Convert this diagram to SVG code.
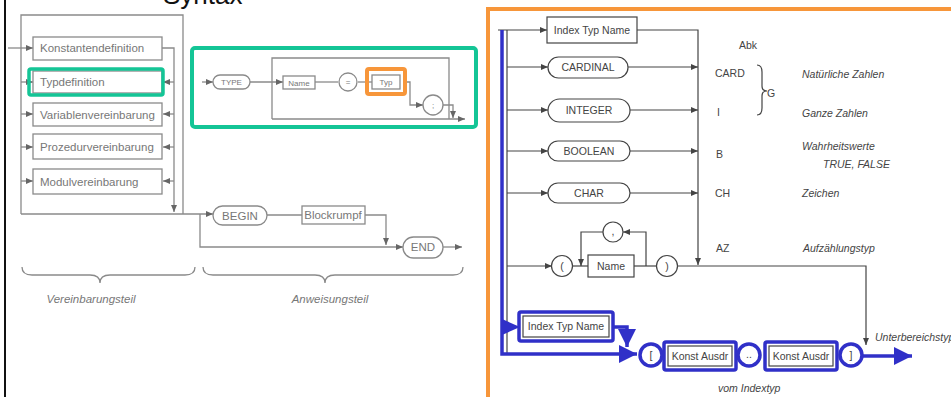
<svg xmlns="http://www.w3.org/2000/svg" width="951" height="397" viewBox="0 0 951 397">
<defs>
<style>
.ln{fill:none;stroke:#444;stroke-width:1.2}
.lg{fill:none;stroke:#8a8a8a;stroke-width:1.3}
.bx{fill:#fff;stroke:#444;stroke-width:1.2}
.bxg{fill:#fff;stroke:#8a8a8a;stroke-width:1.3}
.t{font-family:"Liberation Sans",Arial,sans-serif;font-size:10.5px;fill:#444}
.tg{fill:#777;font-size:11.5px}
.sm{font-size:8px}
.it{font-style:italic}
.c{text-anchor:middle}
.blue{fill:none;stroke:#3030c8;stroke-width:3.5}
.bluef{fill:#3030c8}
.green{fill:none;stroke:#14c596;stroke-width:4}
.orange{fill:none;stroke:#f7963a;stroke-width:4}
</style>
<marker id="a" markerUnits="userSpaceOnUse" markerWidth="7" markerHeight="6" refX="7" refY="3" orient="auto"><path d="M0,0 L7,3 L0,6 z" fill="#444"/></marker>
<marker id="ag" markerUnits="userSpaceOnUse" markerWidth="7" markerHeight="6" refX="7" refY="3" orient="auto"><path d="M0,0 L7,3 L0,6 z" fill="#666"/></marker>
<marker id="ab" markerUnits="userSpaceOnUse" markerWidth="18" markerHeight="18" refX="18" refY="9" orient="auto"><path d="M0,0 L18,9 L0,18 z" fill="#3030c8"/></marker>
</defs>
<rect width="951" height="397" fill="#fff"/>
<line x1="5" y1="0" x2="5" y2="397" stroke="#111" stroke-width="2"/>
<text x="163" y="4" style="font-family:'Liberation Sans',Arial,sans-serif;font-size:26px;fill:#111">Syntax</text>

<g id="connectors">
<!-- left block -->
<path class="lg" d="M21,214 V15 H183 V214"/>
<path class="lg" d="M8,48 H33" marker-end="url(#ag)"/>
<path class="lg" d="M21,82 H33" marker-end="url(#ag)"/>
<path class="lg" d="M21,114 H33" marker-end="url(#ag)"/>
<path class="lg" d="M21,147 H33" marker-end="url(#ag)"/>
<path class="lg" d="M21,181 H33" marker-end="url(#ag)"/>
<path class="lg" d="M162,48 H174 V212" marker-end="url(#ag)"/>
<path class="lg" d="M174,82 H163" marker-end="url(#ag)"/>
<path class="lg" d="M174,114 H163" marker-end="url(#ag)"/>
<path class="lg" d="M174,147 H163" marker-end="url(#ag)"/>
<path class="lg" d="M174,181 H163" marker-end="url(#ag)"/>
<path class="lg" d="M21,214 H213" marker-end="url(#ag)"/>
<path class="lg" d="M200,214 V247 H403" marker-end="url(#ag)"/>
<path class="lg" d="M267,215 H302"/>
<path class="lg" d="M365,215 H386 V245" marker-end="url(#ag)"/>
<path class="lg" d="M443,247 H462" marker-end="url(#ag)"/>
<path class="lg" d="M22,267 Q22,275 32,275 H90 Q100,275 100,283 Q100,275 110,275 H185 Q195,275 195,267"/>
<path class="lg" d="M203,267 Q203,275 213,275 H315 Q325,275 325,283 Q325,275 335,275 H453 Q463,275 463,267"/>
<!-- TYPE diagram -->
<path class="lg" d="M202,82 H213" marker-end="url(#ag)"/>
<path class="lg" d="M250,82 H283" marker-end="url(#ag)"/>
<path class="lg" d="M272,119 V58 H449 V119"/>
<path class="lg" d="M272,119 H465" marker-end="url(#ag)"/>
<path class="lg" d="M315,82 H338"/>
<path class="lg" d="M358,82 H372"/>
<path class="lg" d="M405,82 H410 V105 H423" marker-end="url(#ag)"/>
<path class="lg" d="M443,105 H453 V118" marker-end="url(#ag)"/>
<!-- right diagram -->
<path class="ln" d="M498,30 H547" marker-end="url(#a)"/>
<path class="ln" d="M507,30 V354"/>
<path class="ln" d="M637,30 H698 V265" marker-end="url(#a)"/>
<path class="ln" d="M507,67 H548" marker-end="url(#a)"/>
<path class="ln" d="M628,67 H698" marker-end="url(#a)"/>
<path class="ln" d="M507,110 H548" marker-end="url(#a)"/>
<path class="ln" d="M630,110 H698" marker-end="url(#a)"/>
<path class="ln" d="M507,151 H548" marker-end="url(#a)"/>
<path class="ln" d="M630,151 H698" marker-end="url(#a)"/>
<path class="ln" d="M507,193 H548" marker-end="url(#a)"/>
<path class="ln" d="M630,193 H698" marker-end="url(#a)"/>
<path class="ln" d="M507,266 H552" marker-end="url(#a)"/>
<path class="ln" d="M572,266 H588"/>
<path class="ln" d="M634,266 H657"/>
<path class="ln" d="M646,266 V232 H623" marker-end="url(#a)"/>
<path class="ln" d="M603,232 H581 V266" marker-end="url(#a)"/>
<path class="ln" d="M677,266 H866 V345" marker-end="url(#a)"/>
<path class="ln" d="M757,65 Q762,65 762,72 V86 Q762,91 767,91 Q762,91 762,96 V108 Q762,115 757,115"/>
<!-- blue overlay -->
<path class="blue" d="M502,30 V354 H637" marker-end="url(#ab)"/>
<polygon class="bluef" points="502,319 520,327 502,335"/>
<path class="blue" d="M613,327 H627 V347" marker-end="url(#ab)"/>
<path class="blue" d="M862,356 H912" marker-end="url(#ab)"/>
</g>

<g id="n-konst"><rect class="bxg" x="33" y="37" width="129" height="23"/><text class="t tg" x="40" y="52">Konstantendefinition</text></g>
<g id="n-typdef"><rect class="bxg" x="33" y="71" width="129" height="22"/><rect class="green" x="29" y="69" width="134" height="26" rx="2" style="stroke-width:3.5"/><text class="t tg" x="40" y="86">Typdefinition</text></g>
<g id="n-var"><rect class="bxg" x="33" y="103" width="129" height="23"/><text class="t tg" x="40" y="119">Variablenvereinbarung</text></g>
<g id="n-proz"><rect class="bxg" x="33" y="134" width="129" height="25"/><text class="t tg" x="40" y="151">Prozedurvereinbarung</text></g>
<g id="n-modul"><rect class="bxg" x="33" y="169" width="129" height="25"/><text class="t tg" x="40" y="186">Modulvereinbarung</text></g>
<g id="n-begin"><rect class="bxg" x="213" y="206" width="54" height="19" rx="9.5"/><text class="t tg c" x="240" y="220">BEGIN</text></g>
<g id="n-block"><rect class="bxg" x="302" y="206" width="63" height="18"/><text class="t tg c" x="333" y="219">Blockrumpf</text></g>
<g id="n-end"><rect class="bxg" x="403" y="237" width="40" height="21" rx="10.5"/><text class="t tg c" x="423" y="251">END</text></g>
<text class="t tg it c" x="91" y="303">Vereinbarungsteil</text>
<text class="t tg it c" x="330" y="303">Anweisungsteil</text>

<g id="n-typebox"><rect class="green" x="192" y="48" width="284" height="79" rx="3"/></g>
<g id="n-type"><rect class="bxg" x="213" y="75" width="37" height="14" rx="7"/><text class="t tg sm c" x="231.5" y="85">TYPE</text></g>
<g id="n-name1"><rect class="bxg" x="283" y="76" width="32" height="13"/><text class="t tg sm c" x="299" y="85.5">Name</text></g>
<g id="n-eq"><circle class="bxg" cx="348" cy="82" r="9"/><text class="t tg sm c" x="348" y="85">=</text></g>
<g id="n-typ"><rect class="bxg" x="372" y="75" width="28" height="14"/><rect class="orange" x="367" y="69" width="38" height="25" rx="2"/><text class="t tg sm c" x="386" y="85">Typ</text></g>
<g id="n-semi"><circle class="bxg" cx="433" cy="105" r="10"/><text class="t tg sm c" x="433" y="108">;</text></g>

<path class="orange" d="M488,397 V9 H951"/>
<g id="n-itn"><rect class="bx" x="547" y="17" width="90" height="26"/><text class="t c" x="592" y="34">Index Typ Name</text></g>
<g id="n-cardinal"><rect class="bx" x="548" y="57" width="80" height="21" rx="10.5"/><text class="t c" x="588" y="71">CARDINAL</text></g>
<g id="n-integer"><rect class="bx" x="548" y="99" width="82" height="23" rx="11.5"/><text class="t c" x="589" y="114">INTEGER</text></g>
<g id="n-boolean"><rect class="bx" x="548" y="141" width="82" height="20" rx="10"/><text class="t c" x="589" y="155">BOOLEAN</text></g>
<g id="n-char"><rect class="bx" x="548" y="183" width="82" height="20" rx="10"/><text class="t c" x="589" y="197">CHAR</text></g>
<g id="n-lpar"><circle class="bx" cx="562" cy="266" r="10.5"/><text class="t c" x="562" y="270">(</text></g>
<g id="n-name2"><rect class="bx" x="588" y="255" width="46" height="22"/><text class="t c" x="611" y="270">Name</text></g>
<g id="n-comma"><circle class="bx" cx="613" cy="232" r="10"/><text class="t c" x="613" y="235">,</text></g>
<g id="n-rpar"><circle class="bx" cx="667" cy="266" r="10.5"/><text class="t c" x="667" y="270">)</text></g>

<text class="t" x="739" y="49">Abk</text>
<text class="t" x="715" y="77">CARD</text>
<text class="t" x="717" y="116">I</text>
<text class="t" x="767" y="97">G</text>
<text class="t it" x="802" y="78">Natürliche Zahlen</text>
<text class="t it" x="802" y="117">Ganze Zahlen</text>
<text class="t" x="716" y="158">B</text>
<text class="t it" x="802" y="150">Wahrheitswerte</text>
<text class="t it" x="823" y="168">TRUE, FALSE</text>
<text class="t" x="715" y="197">CH</text>
<text class="t it" x="802" y="197">Zeichen</text>
<text class="t" x="716" y="252">AZ</text>
<text class="t it" x="803" y="252">Aufzählungstyp</text>
<text class="t it" x="875" y="341">Unterbereichstyp</text>
<text class="t it" x="718" y="392">vom Indextyp</text>

<g id="n-itn2"><rect class="bx" x="523" y="316" width="86" height="21"/><rect class="blue" x="519" y="312" width="94" height="29" rx="2"/><text class="t c" x="566" y="330">Index Typ Name</text></g>
<g id="n-lbr"><circle class="blue" cx="651" cy="355" r="11" style="fill:#fff"/><text class="t c" x="651" y="359">[</text></g>
<g id="n-ka1"><rect class="bx" x="668" y="346" width="64" height="20"/><rect class="blue" x="664" y="342" width="72" height="28" rx="2"/><text class="t c" x="700" y="360">Konst Ausdr</text></g>
<g id="n-dots"><circle class="blue" cx="749" cy="355" r="11" style="fill:#fff"/><text class="t c" x="749" y="358">..</text></g>
<g id="n-ka2"><rect class="bx" x="769" y="346" width="64" height="20"/><rect class="blue" x="765" y="342" width="72" height="28" rx="2"/><text class="t c" x="801" y="360">Konst Ausdr</text></g>
<g id="n-rbr"><circle class="blue" cx="851" cy="355" r="11" style="fill:#fff"/><text class="t c" x="851" y="359">]</text></g>
</svg>
